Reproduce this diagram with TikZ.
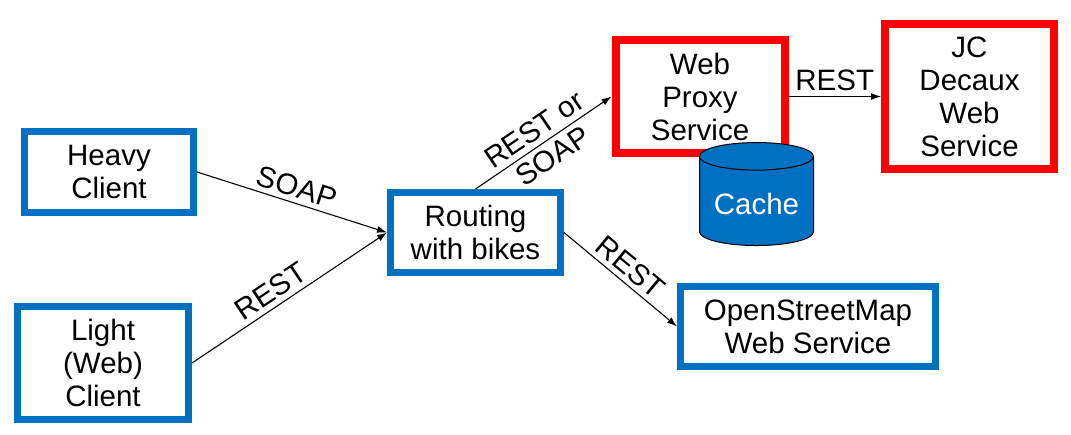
\documentclass[tikz,border=0pt]{standalone}
\usepackage{fontspec}
\setmainfont{Liberation Sans}
\usetikzlibrary{arrows.meta, positioning, shapes.geometric}
\definecolor{boxblue}{RGB}{0,112,192}
\definecolor{boxred}{RGB}{255,0,0}

\begin{document}
\begin{tikzpicture}[x=1pt,y=-1pt,node distance=100pt,on grid,
		font=\fontsize{29.5}{33}\selectfont,
		client/.style={draw=boxblue,line width=7pt,align=center,inner sep=0pt},
		remote/.style={draw=boxred,line width=8pt,align=center,inner sep=0pt},
		proto/.style={inner sep=5pt,sloped},
		>={Latex[length=10pt,width=7pt]}]
			\useasboundingbox (0,0) rectangle (1071,434);
			\node[client,minimum width=169pt,minimum height=81pt] (heavy) at (109,172) {Heavy\\Client};
			\node[client,minimum width=171pt,minimum height=113pt] (light) [below left=191pt and 6pt of heavy] {Light\\(Web)\\Client};
			\node[client,minimum width=170pt,minimum height=80pt] (routing) [below right=60.5pt and 366.5pt of heavy] {Routing\\with bikes};
			\node[remote,minimum width=169pt,minimum height=113pt] (proxy) [above right=136pt and 224.5pt of routing] {Web\\Proxy\\Service};
			\node[remote,minimum width=169pt,minimum height=145pt] (jc) [right=269.5pt of proxy] {JC\\Decaux\\Web\\Service};
			\node[client,minimum width=255pt,minimum height=80pt] (osm) [below right=94pt and 332.5pt of routing] {OpenStreetMap\\Web Service};
			\node[cylinder,shape border rotate=90,aspect=0.3,draw=black,line width=1pt,fill=boxblue,text=white,
				minimum width=114pt,minimum height=103pt] (cache) [below right=107pt and 56.5pt of proxy] {Cache};
			\path[->,line width=1.1pt]
				(heavy.east) edge node[proto,above] {SOAP} (routing.west)
				(light.east) edge node[proto,above,pos=0.45] {REST} (routing.west)
				(routing.north) edge node[sloped,align=center] {REST or\\SOAP} (proxy.west)
				(routing.east) edge node[proto,above] {REST} (osm.west)
				(proxy.east) edge node[proto,above] {REST} (jc.west);
		\end{tikzpicture}
\end{document}
